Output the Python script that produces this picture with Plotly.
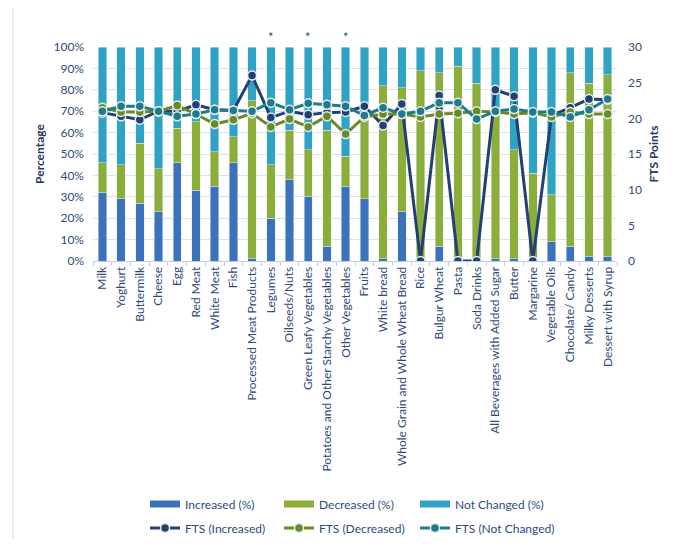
import plotly.graph_objects as go

categories = ["Milk", "Yoghurt", "Buttermilk", "Cheese", "Egg", "Red Meat", "White Meat", "Fish",
              "Processed Meat Products", "Legumes", "Oilseeds/Nuts", "Green Leafy Vegetables",
              "Potatoes and Other Starchy Vegetables", "Other Vegetables", "Fruits", "White bread",
              "Whole Grain and Whole Wheat Bread", "Rice", "Bulgur Wheat", "Pasta", "Soda Drinks",
              "All Beverages with Added Sugar", "Butter", "Margarine", "Vegetable Oils",
              "Chocolate/ Candy", "Milky Desserts", "Dessert with Syrup"]

increased = [32, 29, 27, 23, 46, 33, 35, 46, 1, 20, 38, 30, 7, 35, 29, 1, 23, 0, 7, 0, 0, 1, 1, 0, 9, 7, 2, 2]
decreased = [14, 16, 28, 20, 16, 32, 16, 12, 74, 25, 23, 22, 54, 14, 38, 81, 58, 89, 81, 91, 83, 70, 51, 41, 22, 81, 81, 85]
not_changed = [100 - a - b for a, b in zip(increased, decreased)]

fts_increased = [20.8, 20.3, 19.8, 21.0, 21.0, 21.9, 21.2, 21.1, 26.0, 20.1, 21.0, 20.5, 20.8, 20.9,
                 21.7, 19.0, 22.0, 0, 23.2, 0, 0, 24.0, 23.1, 0, 20.4, 21.5, 22.7, 22.6]
fts_decreased = [21.5, 20.9, 20.9, 21.0, 21.8, 20.6, 19.2, 19.8, 20.7, 18.8, 19.9, 18.8, 20.3, 17.8,
                 20.2, 20.6, 20.6, 20.2, 20.6, 20.7, 21.0, 20.9, 20.6, 20.8, 20.2, 20.9, 20.6, 20.6]
fts_not_changed = [21.0, 21.7, 21.7, 21.0, 20.3, 20.6, 21.2, 21.1, 21.0, 22.2, 21.2, 22.1, 21.9, 21.7,
                   20.4, 21.5, 20.6, 21.0, 22.2, 22.2, 19.9, 21.0, 21.3, 20.9, 20.9, 20.2, 21.2, 22.7]

bar_names = ["Increased (%)", "Decreased (%)", "Not Changed (%)"]
line_names = ["FTS (Increased)", "FTS (Decreased)", "FTS (Not Changed)"]
starred = ["Legumes", "Green Leafy Vegetables", "Other Vegetables"]

FONT = "Lato"
TXT = "#2F4A7C"
BAR_COLORS = ["#3B72BA", "#8BAE3A", "#2FA3C4"]
LINE_COLORS = ["#243F73", "#6A8A26", "#1F7A8C"]

# page offset from default body margin
OFF = 8
W, H = 681, 530
L, R, T, B = 93 - OFF, 617 - OFF, 47 - OFF, 261 - OFF
pw, ph = R - L, B - T

# legend cell positions (figure px): columns x, rows y-centre
COL_X = [137, 271, 407]
ROW_Y = [496, 520]

fig = go.Figure()
for name, vals, col in zip(bar_names, [increased, decreased, not_changed], BAR_COLORS):
    fig.add_bar(x=categories, y=vals, name=name, marker=dict(color=col), showlegend=False)

mk_line = dict(color="#E6EEF0", width=1.5)
for i, (name, vals, col) in enumerate(zip(line_names, [fts_increased, fts_decreased, fts_not_changed], LINE_COLORS)):
    fig.add_scatter(x=categories, y=vals, name=name, yaxis="y2", legend=f"legend{4 + i}",
                    mode="lines+markers", line=dict(color=col, width=3),
                    marker=dict(size=9, color=col, line=mk_line))

# legend swatches for the bar series (flat rectangles)
for i, (name, col) in enumerate(zip(bar_names, BAR_COLORS)):
    fig.add_scatter(x=[None], y=[None], name=name, mode="lines",
                    legend="legend" if i == 0 else f"legend{1 + i}",
                    line=dict(color=col, width=7), hoverinfo="skip")

for c in starred:
    fig.add_annotation(x=c, y=1.0, yref="paper", text="*", showarrow=False,
                       yanchor="bottom", font=dict(family=FONT, size=13, color=TXT))

# outer chart frame (left and right edges)
for px in (13 - OFF, 683 - OFF):
    fig.add_shape(type="line", xref="paper", yref="paper",
                  x0=(px - L) / pw, x1=(px - L) / pw, y0=(B - H) / ph, y1=B / ph,
                  line=dict(color="#D9D9D9", width=1), layer="below")

legends = {}
for k in range(6):
    key = "legend" if k == 0 else f"legend{k + 1}"
    legends[key] = dict(orientation="h", xref="container", yref="container",
                        x=COL_X[k % 3] / W, y=(H - ROW_Y[k // 3]) / H,
                        xanchor="left", yanchor="middle",
                        font=dict(family=FONT, size=12, color=TXT),
                        bgcolor="rgba(0,0,0,0)")

fig.update_layout(
    width=W, height=H,
    barmode="stack", bargap=0.55,
    paper_bgcolor="white", plot_bgcolor="white",
    margin=dict(l=L, r=W - R, t=T, b=H - B, autoexpand=False),
    font=dict(family=FONT, size=12, color=TXT),
    xaxis=dict(range=[-0.5, len(categories) - 0.5], tickangle=-90, showgrid=False,
               showline=True, linecolor="#BFCFE8",
               ticks="outside", tickson="boundaries", ticklen=4, tickcolor="#BFCFE8",
               tickfont=dict(family=FONT, size=12, color=TXT)),
    yaxis=dict(range=[0, 100], dtick=10, ticksuffix="%", showgrid=True, gridcolor="#D9E2F3",
               zeroline=False, showline=False, ticklabelstandoff=8,
               tickfont=dict(family=FONT, size=12, color=TXT),
               title=dict(text="<b>Percentage</b>", font=dict(family=FONT, size=12, color="#1F3864"),
                          standoff=6)),
    yaxis2=dict(range=[0, 30], dtick=5, overlaying="y", side="right", showgrid=False,
                zeroline=False, showline=False, ticklabelstandoff=10,
                tickfont=dict(family=FONT, size=12, color=TXT),
                title=dict(text="<b>FTS Points</b>", font=dict(family=FONT, size=12, color="#1F3864"),
                           standoff=8)),
    **legends,
)

fig.write_html("out.html")
